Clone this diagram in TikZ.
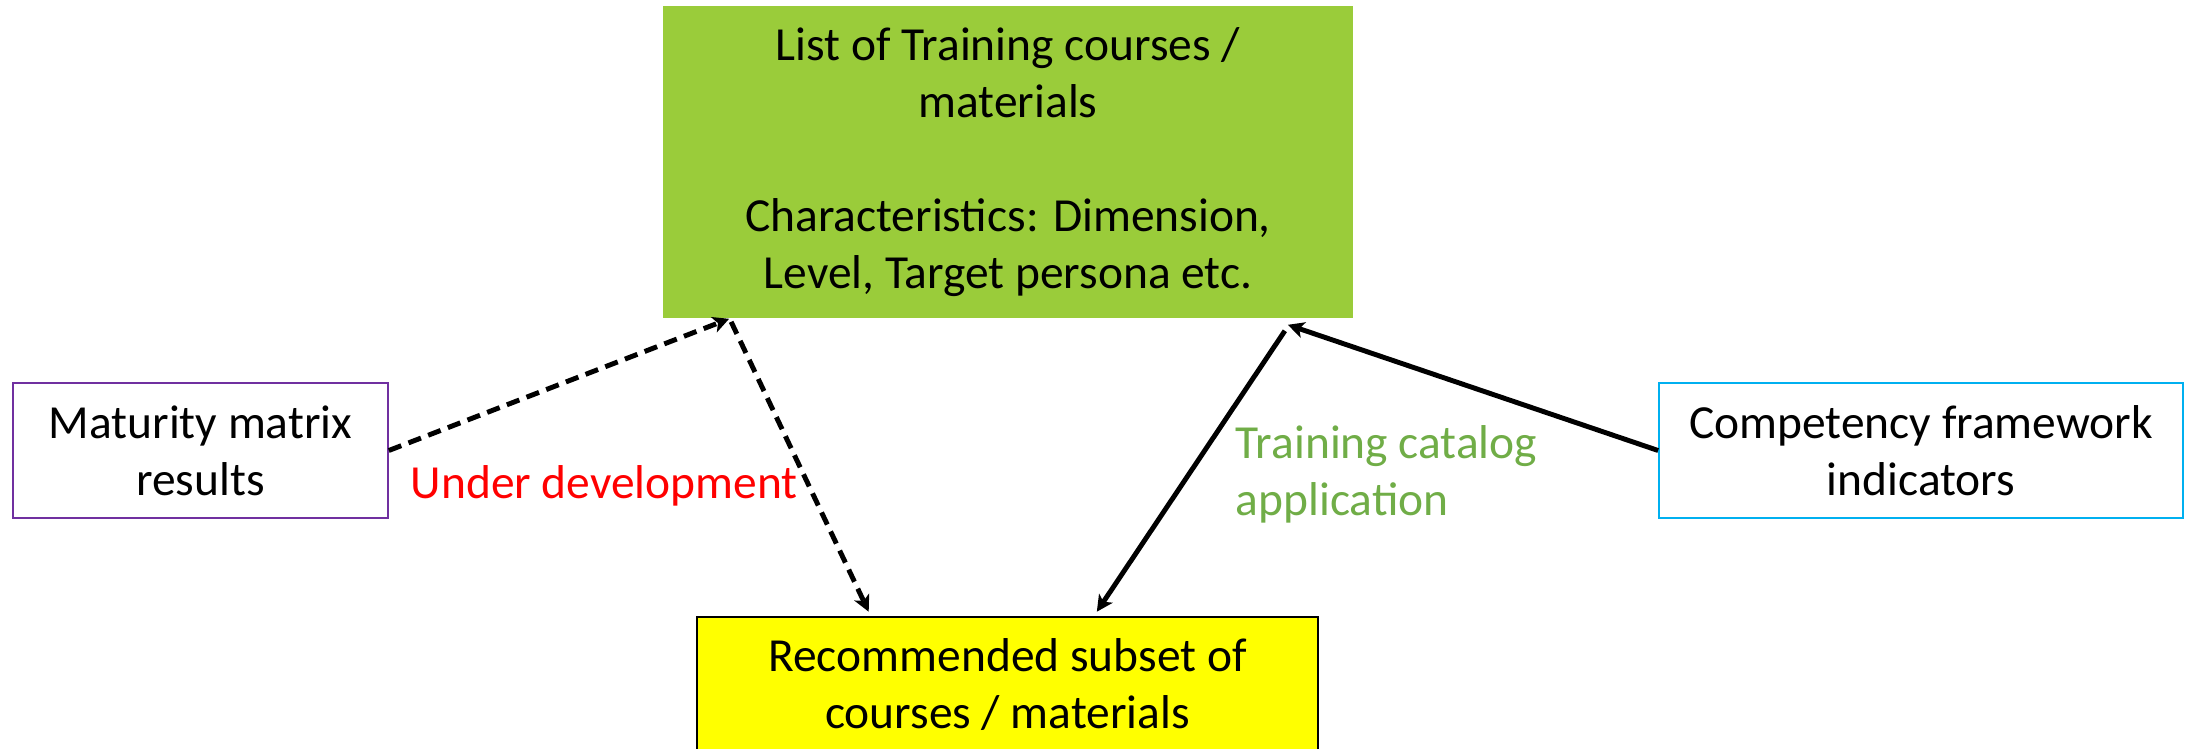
\documentclass[tikz,border=0pt]{standalone}
\usepackage{fontspec}
\setmainfont{Carlito}
\usepackage{xcolor}
\usepackage{tikz}
\usetikzlibrary{arrows.meta, positioning}

\definecolor{listgreen}{HTML}{9ACC3A}
\definecolor{catgreen}{HTML}{70AD47}
\definecolor{matpurple}{HTML}{7030A0}
\definecolor{compblue}{HTML}{00B0F0}
\definecolor{recyellow}{RGB}{255,255,0}

\begin{document}
\begin{tikzpicture}[
        x=0.01cm, y=-0.01cm,
        every node/.style={font=\fontsize{13.5pt}{16.2pt}\selectfont, align=center, inner sep=0pt},
        box/.style={rectangle, minimum height=1.35cm},
        link/.style={line width=1.4pt, -{Stealth[length=4.6pt, width=4.6pt, inset=1.2pt]}},
        devlink/.style={link, dash pattern=on 3.8pt off 2.2pt}
    ]
    \useasboundingbox (0,0) rectangle (2187,748);

    % Nodes for the boxes
    \node[box, fill=listgreen, minimum width=6.90cm, minimum height=3.12cm] (list) at (1008,162)
        {List of Training courses /\\ materials\\[16.2pt] Characteristics: Dimension,\\ Level, Target persona etc.};
    \node[box, draw=matpurple, line width=0.4pt, minimum width=3.75cm] (maturity) at (200.5,450.5)
        {Maturity matrix\\ results};
    \node[box, draw=compblue, line width=0.4pt, minimum width=5.24cm] (competency) at (1921,450.5)
        {Competency framework\\ indicators};
    \node[box, fill=recyellow, draw=black, line width=0.7pt, minimum width=6.21cm] (recommended) at (1007.5,684.5)
        {Recommended subset of\\ courses / materials};

    % Labels on the edges
    \node[text=red, anchor=base west] (dev) at (410,498) {Under development};
    \node[text=catgreen, align=left, anchor=west] (catalog) at (1235,474) {Training catalog\\ application};

    % Edges between the boxes
    \draw[devlink] (maturity.east) -- ([xshift=0.67cm]list.south west);
    \draw[devlink] ([xshift=0.69cm, yshift=-0.03cm]list.south west) -- ([xshift=1.73cm, yshift=0.04cm]recommended.north west);
    \draw[link] ([xshift=-0.69cm, yshift=-0.12cm]list.south east) -- ([xshift=4.01cm, yshift=0.04cm]recommended.north west);
    \draw[link] (competency.west) -- ([xshift=-0.66cm, yshift=-0.06cm]list.south east);

\end{tikzpicture}
\end{document}
